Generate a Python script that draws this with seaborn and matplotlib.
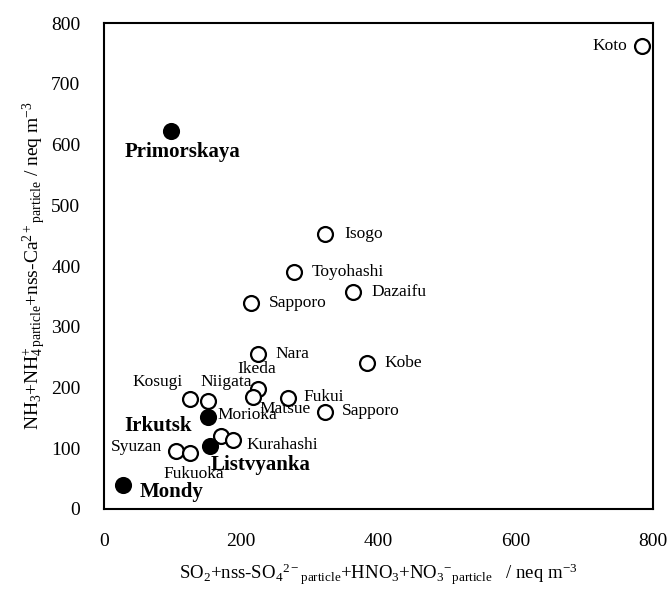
import numpy as np
import pandas as pd
import matplotlib
matplotlib.use("Agg")
import matplotlib.pyplot as plt
import seaborn as sns

# Japanese sites (open circles)
jp_sites = ["Koto", "Isogo", "Toyohashi", "Dazaifu", "Sapporo", "Nara", "Kobe",
            "Ikeda", "Matsue", "Kosugi", "Niigata", "Fukui", "Sapporo",
            "Kurahashi", "Kurahashi", "Syuzan", "Fukuoka"]
jp_x = [784, 322, 277, 363, 214, 224, 383, 224, 217, 125, 152, 268, 322, 171, 188, 105, 125]
jp_y = [762, 452, 390, 357, 339, 255, 240, 197, 184, 181, 178, 183, 160, 120, 114, 96, 92]

# Russian sites (filled circles)
ru_sites = ["Primorskaya", "Morioka", "Listvyanka", "Mondy"]
ru_x = [98, 152, 155, 28]
ru_y = [622, 152, 104, 40]

# text labels: (text, x, y, ha, bold)
labels = [
    ("Koto", 762, 762, "right", False),
    ("Primorskaya", 30, 587, "left", True),
    ("Isogo", 350, 452, "left", False),
    ("Toyohashi", 303, 390, "left", False),
    ("Dazaifu", 390, 357, "left", False),
    ("Sapporo", 240, 339, "left", False),
    ("Nara", 250, 255, "left", False),
    ("Kobe", 408, 240, "left", False),
    ("Ikeda", 222, 230, "center", False),
    ("Kosugi", 42, 209, "left", False),
    ("Niigata", 141, 209, "left", False),
    ("Fukui", 291, 185, "left", False),
    ("Matsue", 227, 165, "left", False),
    ("Sapporo", 347, 162, "left", False),
    ("Morioka", 166, 154, "left", False),
    ("Irkutsk", 30, 136, "left", True),
    ("Kurahashi", 207, 105, "left", False),
    ("Syuzan", 84, 102, "right", False),
    ("Listvyanka", 155, 73, "left", True),
    ("Fukuoka", 86, 57, "left", False),
    ("Mondy", 52, 28, "left", True),
]

df = pd.DataFrame({
    "x": jp_x + ru_x,
    "y": jp_y + ru_y,
    "group": ["jp"] * len(jp_x) + ["ru"] * len(ru_x),
})

sns.set_style("white")
plt.rcParams["font.family"] = ["Liberation Serif", "DejaVu Serif"]
plt.rcParams["mathtext.fontset"] = "custom"
plt.rcParams["mathtext.rm"] = "Liberation Serif"
plt.rcParams["mathtext.it"] = "Liberation Serif:italic"
plt.rcParams["mathtext.bf"] = "Liberation Serif:bold"
plt.rcParams["text.color"] = "black"
plt.rcParams["axes.labelcolor"] = "black"
plt.rcParams["xtick.color"] = "black"
plt.rcParams["ytick.color"] = "black"

fig = plt.figure(figsize=(6.68, 5.9), dpi=100)
ax = fig.add_axes([0.1557, 0.1373, 0.8218, 0.8237])

sns.scatterplot(data=df[df.group == "jp"], x="x", y="y", ax=ax, s=115,
                facecolor="white", edgecolor="black", linewidth=1.6, zorder=3)
sns.scatterplot(data=df[df.group == "ru"], x="x", y="y", ax=ax, s=115,
                color="black", edgecolor="black", linewidth=1.6, zorder=3)

for txt, x, y, ha, bold in labels:
    ax.text(x, y, txt, ha=ha, va="center",
            fontsize=15 if bold else 12.5,
            fontweight="bold" if bold else "normal", zorder=4)

ax.set_xlim(0, 800)
ax.set_ylim(0, 800)
ax.set_xticks(range(0, 801, 200))
ax.set_yticks(range(0, 801, 100))
ax.tick_params(direction="in", length=6, width=1.2, labelsize=14)
ax.tick_params(axis="y", pad=17)
ax.tick_params(axis="x", pad=17)
for sp in ax.spines.values():
    sp.set_visible(True)
    sp.set_color("black")
    sp.set_linewidth(1.5)

ax.set_xlabel(r"SO$_2$+nss-SO$_4$$^{2-}$$_{\rm particle}$+HNO$_3$+NO$_3$$^{-}$$_{\rm particle}$   / neq m$^{-3}$",
              fontsize=13.5, labelpad=9)
ax.set_ylabel(r"NH$_3$+NH$_4^{+}$$_{\rm particle}$+nss-Ca$^{2+}$$_{\rm particle}$ / neq m$^{-3}$",
              fontsize=14, labelpad=2)

fig.savefig("out.png", dpi=100)
